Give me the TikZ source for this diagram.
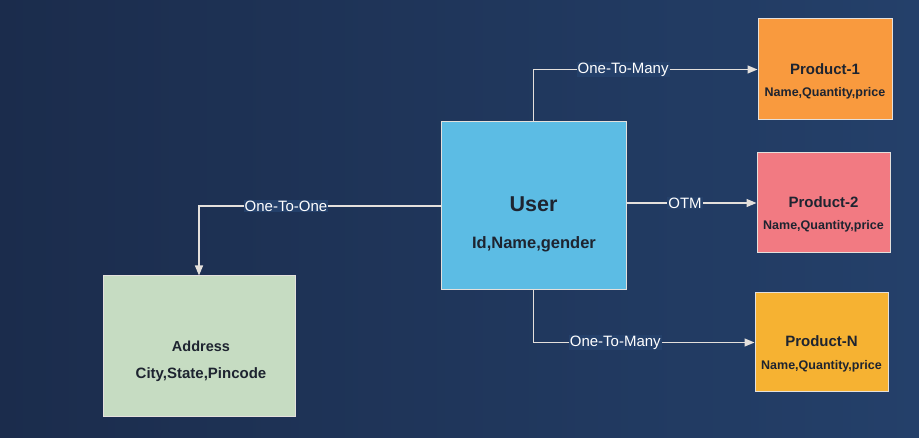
\documentclass[tikz,border=0pt]{standalone}
\usepackage{fontspec}
\setmainfont{Liberation Sans}
\usetikzlibrary{arrows.meta}
\definecolor{bgA}{HTML}{1B2C4C}
\definecolor{bgB}{HTML}{24406A}
\definecolor{userfill}{HTML}{5CBCE4}
\definecolor{p1fill}{HTML}{F99A3E}
\definecolor{p2fill}{HTML}{F27A82}
\definecolor{pnfill}{HTML}{F6B232}
\definecolor{addrfill}{HTML}{C6DCC2}
\definecolor{linec}{HTML}{E4E0DC}
\definecolor{txt}{HTML}{1E2430}
\tikzset{
  entity/.style={draw=linec, line width=1pt, inner sep=0pt, text=txt, align=center, font=\bfseries},
  rel/.style={draw=linec, line width=1.3pt, -{Triangle[length=10pt,width=8pt]}},
  rellabel/.style={fill=bgB, inner sep=1pt, text=white, font=\fontsize{15}{17}\selectfont},
  ttl/.style={text=txt, font=\fontsize{15}{18}\selectfont\bfseries},
  attr/.style={text=txt, font=\fontsize{12.5}{15}\selectfont\bfseries}
}
\begin{document}
\begin{tikzpicture}[x=1pt,y=-1pt]
\useasboundingbox (0,0) rectangle (919,438);
\shade[left color=bgA, right color=bgB] (0,0) rectangle (919,438);
% boxes
\node[entity, fill=userfill, minimum width=185pt, minimum height=168pt] (user) at (533.5,206) {};
\node[text=txt, font=\fontsize{21.5}{25}\selectfont\bfseries] (usert) at (533.5,204) {User};
\node[text=txt, font=\fontsize{16.5}{19}\selectfont\bfseries] (usera) at (534,244) {Id,Name,gender};

\node[entity, fill=p1fill, minimum width=134pt, minimum height=101pt] (p1) at (825,69.5) {};
\node[ttl] (p1t) at (825,69) {Product-1};
\node[attr] (p1a) at (825,93) {Name,Quantity,price};

\node[entity, fill=p2fill, minimum width=133pt, minimum height=100pt] (p2) at (823.5,203) {};
\node[ttl] (p2t) at (823.5,202) {Product-2};
\node[attr] (p2a) at (823.5,226) {Name,Quantity,price};

\node[entity, fill=pnfill, minimum width=133pt, minimum height=99pt] (pn) at (821.5,342.5) {};
\node[ttl] (pnt) at (821.5,341) {Product-N};
\node[attr] (pna) at (821.5,366) {Name,Quantity,price};

\node[entity, fill=addrfill, minimum width=192pt, minimum height=141pt] (addr) at (199,346.5) {};
\node[text=txt, font=\fontsize{14.5}{17}\selectfont\bfseries] (addrt) at (201,346) {Address};
\node[text=txt, font=\fontsize{15}{18}\selectfont\bfseries] (addra) at (201,375) {City,State,Pincode};

% connectors
\draw[rel] (user.north) |- (p1.west) node[rellabel, pos=0.7] {One-To-Many};
\draw[rel] (user.east |- p2.west) -- (p2.west) node[rellabel, pos=0.45] {OTM};
\draw[rel] (user.south) |- (pn.west) node[rellabel, pos=0.685] {One-To-Many};
\draw[rel] (user.west) -| (addr.north) node[rellabel, pos=0.32] {One-To-One};
\end{tikzpicture}
\end{document}
